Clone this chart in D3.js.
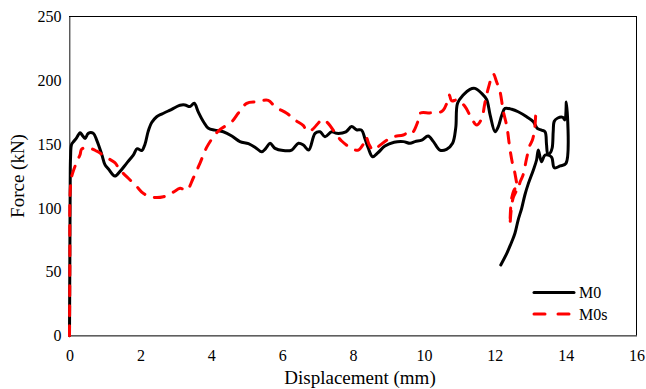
<!DOCTYPE html>
<html>
<head>
<meta charset="utf-8">
<script src="https://cdn.jsdelivr.net/npm/d3@7"></script>
<style>
  html, body { margin: 0; padding: 0; background: #fff; }
  svg { display: block; }
  text { font-family: "Liberation Serif", "Times New Roman", serif; fill: #000; }
</style>
</head>
<body>
<svg id="chart" width="646" height="389"></svg>
<script>
// Force–displacement curves (displacement in mm, force in kN)
const m0Disp = [0, 0.01, 0.02, 0.03, 0.06, 0.13, 0.2, 0.3, 0.36, 0.44, 0.53, 0.67, 0.77, 0.91, 1.0, 1.1, 1.28, 1.42, 1.61, 1.8, 1.91, 2.04, 2.13, 2.22, 2.32, 2.46, 2.6, 2.74, 2.84, 3.02, 3.12, 3.26, 3.4, 3.52, 3.63, 3.78, 3.92, 4.1, 4.34, 4.58, 4.81, 5.05, 5.28, 5.42, 5.54, 5.66, 5.8, 6.03, 6.27, 6.46, 6.6, 6.75, 6.93, 7.07, 7.21, 7.4, 7.54, 7.8, 7.96, 8.1, 8.24, 8.34, 8.43, 8.55, 8.71, 8.9, 9.16, 9.42, 9.61, 9.75, 9.94, 10.12, 10.27, 10.45, 10.64, 10.81, 10.9, 10.95, 11.11, 11.3, 11.44, 11.63, 11.77, 11.87, 12.01, 12.1, 12.2, 12.29, 12.48, 12.66, 12.9, 13.09, 13.2, 13.32, 13.42, 13.46, 13.5, 13.56, 13.62, 13.65, 13.68, 13.78, 13.92, 13.98, 14.02, 14.01, 13.85, 13.68, 13.6, 13.42, 13.32, 13.23, 13.18, 13.09, 12.95, 12.85, 12.76, 12.66, 12.57, 12.48, 12.34, 12.17];
const m0Force = [0, 60, 120, 140, 150, 152.5, 155, 159, 157, 154.5, 158.5, 158.5, 153, 142, 134, 130.5, 125, 128.5, 135, 141.5, 146.5, 145, 150, 160, 167, 171.5, 173.6, 175.4, 176.7, 179.3, 180.5, 180.7, 179.5, 182, 175.5, 167.6, 162.4, 161, 159.7, 156.4, 152, 150.5, 146.7, 144, 146.7, 150.7, 146.7, 145, 145.4, 150.7, 149.3, 145.4, 158.5, 159.7, 155.8, 159.7, 158.5, 159.7, 163.8, 161.3, 161, 154, 147, 140.2, 143.5, 148.5, 151.5, 152, 150.7, 152, 153.2, 156.4, 152, 145.4, 146, 150.7, 163, 182, 188.5, 193, 193.7, 189.8, 185, 172.8, 159.7, 163.7, 172.8, 178, 177.3, 175.4, 171.5, 167.6, 162.4, 161, 159.7, 150, 142, 143, 147, 160, 168, 170.5, 171, 169, 183, 135, 133, 131.5, 140, 141.5, 136.3, 145.4, 137.6, 129.8, 119.3, 110.2, 99.8, 90.6, 80.2, 73.6, 64.5, 55.4];

const m0sDisp = [0, 0.01, 0.01, 0.03, 0.06, 0.16, 0.22, 0.3, 0.34, 0.5, 0.77, 1.05, 1.28, 1.42, 1.66, 1.9, 2.08, 2.36, 2.65, 2.93, 3.12, 3.31, 3.49, 3.68, 3.87, 4.1, 4.25, 4.58, 4.76, 5.0, 5.28, 5.61, 5.8, 6.13, 6.36, 6.6, 6.69, 6.83, 7.12, 7.21, 7.3, 7.54, 7.68, 8.0, 8.15, 8.29, 8.37, 8.45, 8.57, 8.71, 8.95, 9.14, 9.42, 9.59, 9.66, 9.84, 9.89, 10.17, 10.45, 10.55, 10.66, 10.72, 10.78, 10.95, 11.16, 11.35, 11.49, 11.63, 11.72, 11.82, 11.96, 12.05, 12.15, 12.24, 12.34, 12.43, 12.5, 12.57, 12.62, 12.52, 12.47, 12.43, 12.48, 12.57, 12.66, 12.71, 12.8, 12.9, 12.99, 13.06, 13.13, 13.16];
const m0sForce = [0, 60, 104, 118, 124.5, 133, 137, 142, 146, 147.5, 144.5, 139.5, 135.5, 130, 123.3, 116.7, 111.5, 108.4, 108.8, 112.5, 115.4, 114, 123.3, 135, 147.5, 157.2, 161.5, 167.6, 174.2, 182, 183.2, 184.3, 179.3, 174.2, 169, 164.5, 160.5, 161, 169, 168.4, 166.3, 157.2, 152.5, 146, 145.4, 150, 155.5, 150, 145.4, 148, 153, 155.8, 157.2, 159.7, 158.5, 168.5, 174.2, 174.5, 175, 176.7, 183, 188.5, 184, 184.6, 179.5, 170, 165, 170, 182, 194, 205, 199, 191, 176, 164, 146, 135, 127, 115, 108, 100, 87, 108, 115, 114, 120, 126, 139, 149, 153, 163, 177];

const seriesNames = ["M0", "M0s"];
const xTicks = [0, 2, 4, 6, 8, 10, 12, 14, 16];
const yTicks = [0, 50, 100, 150, 200, 250];

const svg = d3.select("#chart");
const plot = { left: 69.5, right: 636.5, top: 16.5, bottom: 335.7 };

const x = d3.scaleLinear().domain([0, 16]).range([plot.left, plot.right]);
const y = d3.scaleLinear().domain([0, 250]).range([plot.bottom, plot.top]);

// plot-area frame
svg.append("rect")
  .attr("x", plot.left).attr("y", plot.top)
  .attr("width", plot.right - plot.left).attr("height", plot.bottom - plot.top)
  .attr("fill", "none").attr("stroke", "#000").attr("stroke-width", 1);

// axes (no tick marks, grey domain line)
const xAxis = svg.append("g")
  .attr("transform", `translate(0,${plot.bottom})`)
  .call(d3.axisBottom(x).tickValues(xTicks).tickSize(0).tickPadding(14));
const yAxis = svg.append("g")
  .attr("transform", `translate(${plot.left},0)`)
  .call(d3.axisLeft(y).tickValues(yTicks).tickSize(0).tickPadding(8));
[xAxis, yAxis].forEach(g => {
  g.attr("font-family", null).attr("font-size", null);
  g.select(".domain").attr("stroke", "#8c8c8c").attr("stroke-width", 1.3);
  g.selectAll("text").attr("font-size", 16).attr("fill", "#000");
});

// axis titles
svg.append("text")
  .attr("x", 360).attr("y", 384)
  .attr("text-anchor", "middle").attr("font-size", 19)
  .text("Displacement (mm)");
svg.append("text")
  .attr("transform", `translate(24,176) rotate(-90)`)
  .attr("text-anchor", "middle").attr("font-size", 19)
  .text("Force (kN)");

// curves
const line = d3.line()
  .x(d => x(d[0])).y(d => y(d[1]))
  .curve(d3.curveCatmullRom.alpha(0.5));
const m0 = m0Disp.map((d, i) => [d, m0Force[i]]);
const m0s = m0sDisp.map((d, i) => [d, m0sForce[i]]);

svg.append("path").datum(m0)
  .attr("d", line).attr("fill", "none")
  .attr("stroke", "#000").attr("stroke-width", 3)
  .attr("stroke-linejoin", "round").attr("stroke-linecap", "round");

svg.append("path").datum(m0s)
  .attr("d", line).attr("fill", "none")
  .attr("stroke", "#ff0000").attr("stroke-width", 3)
  .attr("stroke-dasharray", "10,10")
  .attr("stroke-linejoin", "round").attr("stroke-linecap", "round");

// legend
const legend = svg.append("g");
const styles = [
  { stroke: "#000", dash: null },
  { stroke: "#ff0000", dash: "11,13" }
];
seriesNames.forEach((name, i) => {
  const ly = 292.5 + i * 21.5;
  legend.append("line")
    .attr("x1", 534).attr("x2", 574).attr("y1", ly).attr("y2", ly)
    .attr("stroke", styles[i].stroke).attr("stroke-width", 3)
    .attr("stroke-dasharray", styles[i].dash).attr("stroke-linecap", "round");
  legend.append("text")
    .attr("x", 579).attr("y", ly + 5.5)
    .attr("font-size", 16)
    .text(name);
});
</script>
</body>
</html>
